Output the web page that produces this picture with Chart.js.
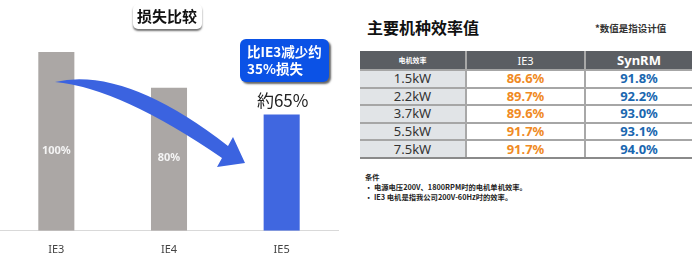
<!DOCTYPE html>
<html>
<head>
<meta charset="utf-8">
<script src="https://cdn.jsdelivr.net/npm/chart.js@4.4.1/dist/chart.umd.min.js"></script>
<style>
  body { margin: 0; background: #fff; width: 700px; height: 258px; overflow: hidden; position: relative;
         font-family: "Noto Sans", "Noto Sans CJK SC", sans-serif; }
  #lossChart { position: absolute; left: 0; top: 0; }
  #effTitle { position: absolute; left: 367px; top: 14px; font: bold 16px "Noto Sans CJK SC"; color: #111; line-height: 26px; }
  #effNote { position: absolute; left: 595px; top: 21px; font: bold 9.5px "Noto Sans CJK SC"; color: #333; line-height: 14px; }
  #effTable { position: absolute; left: 360px; top: 51px; width: 332px; border-collapse: collapse; table-layout: fixed; }
  #effTable th { background: #5b5e63; color: #fff; height: 18px; padding: 0; font-weight: bold; }
  #effTable td { height: 15.6px; padding: 0; text-align: center; font-size: 13px; line-height: 15px;
                 border-top: 2px solid #a6a6a6; }
  #effTable tr:last-child td { border-bottom: 2px solid #8a8a8a; }
  #effTable td.kw { background: #e1e4e7; color: #333; }
  #effTable td.ie3 { color: #f08a24; font-weight: bold; }
  #effTable td.syn { color: #1a67b0; font-weight: bold; }
  #effTable .sep { border-left: 2px solid #a8a8a8; }
  #conds { position: absolute; left: 365px; top: 172px; font: bold 7.3px "Noto Sans CJK SC"; color: #222; line-height: 10px; }
</style>
</head>
<body>
<canvas id="lossChart" width="340" height="258"></canvas>
<div id="effTitle">主要机种效率值</div>
<div id="effNote">*数值是指设计值</div>
<table id="effTable">
  <colgroup><col style="width:106px"><col style="width:119px"><col style="width:107px"></colgroup>
  <thead><tr id="effHead"></tr></thead>
  <tbody id="effBody"></tbody>
</table>
<div id="conds"></div>
<script>
// loss comparison (IE3 = 100%)
const motorClasses = ['IE3', 'IE4', 'IE5'];
const lossValues = [100, 80, 65];
const lossLabels = ['100%', '80%', '約65%'];

// efficiency table
const tableHeaders = ['电机效率', 'IE3', 'SynRM'];
const ratedPowers = ['1.5kW', '2.2kW', '3.7kW', '5.5kW', '7.5kW'];
const ie3Efficiency = ['86.6%', '89.7%', '89.6%', '91.7%', '91.7%'];
const synrmEfficiency = ['91.8%', '92.2%', '93.0%', '93.1%', '94.0%'];
const conditions = ['条件', '· 电源电压200V、1800RPM时的电机单机效率。', '· IE3 电机是指我公司200V-60Hz时的效率。'];

// --- table ---
const head = document.getElementById('effHead');
tableHeaders.forEach((h, i) => {
    const th = document.createElement('th');
    th.textContent = h;
    if (i === 0) { th.style.fontSize = '7px'; th.style.fontFamily = '"Noto Sans CJK SC"'; }
    else if (i === 1) { th.style.fontSize = '11px'; th.style.fontWeight = 'normal'; th.className = 'sep'; }
    else { th.style.fontSize = '13px'; th.className = 'sep'; }
    head.appendChild(th);
});
const body = document.getElementById('effBody');
ratedPowers.forEach((p, i) => {
    const tr = document.createElement('tr');
    tr.innerHTML = `<td class="kw">${p}</td><td class="ie3 sep">${ie3Efficiency[i]}</td><td class="syn sep">${synrmEfficiency[i]}</td>`;
    body.appendChild(tr);
});
document.getElementById('conds').innerHTML = conditions.join('<br>');

// --- decorations on the bar chart ---
const decorPlugin = {
    id: 'decor',
    afterDatasetsDraw(chart) {
        const ctx = chart.ctx;
        const bars = chart.getDatasetMeta(0).data;
        const y = chart.scales.y;

        // bar labels
        ctx.save();
        ctx.textAlign = 'center';
        ctx.textBaseline = 'middle';
        ctx.fillStyle = '#f4f4f4';
        ctx.font = 'bold 11px "Noto Sans"';
        ctx.fillText(lossLabels[0], bars[0].x, y.getPixelForValue(44.5));
        ctx.fillText(lossLabels[1], bars[1].x, y.getPixelForValue(41));
        ctx.fillStyle = '#222';
        ctx.font = '17px "Noto Sans CJK JP"';
        ctx.fillText(lossLabels[2], bars[2].x + 1, bars[2].y - 14);
        ctx.restore();

        // curved arrow
        ctx.save();
        ctx.fillStyle = '#3b63e0';
        ctx.beginPath();
        ctx.moveTo(55, 82);
        ctx.quadraticCurveTo(125, 66, 228, 146);
        ctx.lineTo(233, 137);
        ctx.lineTo(245, 163);
        ctx.lineTo(217, 167);
        ctx.lineTo(222, 158);
        ctx.quadraticCurveTo(120, 88, 55, 82);
        ctx.closePath();
        ctx.fill();
        ctx.restore();

        // title box
        ctx.save();
        ctx.shadowColor = 'rgba(0,0,0,0.55)';
        ctx.shadowOffsetY = 2;
        ctx.shadowOffsetX = 0;
        ctx.shadowBlur = 2;
        ctx.fillStyle = '#fff';
        ctx.beginPath();
        ctx.roundRect(133, 4, 69, 25, 5);
        ctx.fill();
        ctx.restore();
        ctx.save();
        ctx.fillStyle = '#111';
        ctx.font = 'bold 15px "Noto Sans CJK SC"';
        ctx.textAlign = 'center';
        ctx.textBaseline = 'middle';
        ctx.fillText('损失比较', 167, 16);
        ctx.restore();

        // callout box
        ctx.save();
        ctx.shadowColor = 'rgba(0,0,0,0.6)';
        ctx.shadowOffsetX = 2;
        ctx.shadowOffsetY = 2;
        ctx.shadowBlur = 2;
        ctx.fillStyle = '#0b52e6';
        ctx.beginPath();
        ctx.roundRect(240, 39, 89, 43, 6);
        ctx.fill();
        ctx.restore();
        ctx.save();
        ctx.fillStyle = '#fff';
        ctx.font = 'bold 13.5px "Noto Sans CJK SC"';
        ctx.textBaseline = 'middle';
        ctx.fillText('比IE3减少约', 247, 52);
        ctx.fillText('35%损失', 247, 69);
        ctx.restore();
    }
};

new Chart(document.getElementById('lossChart'), {
    type: 'bar',
    data: {
        labels: motorClasses,
        datasets: [{
            data: lossValues,
            backgroundColor: ['#aba7a5', '#aba7a5', '#4067e0'],
            barPercentage: 0.32,
            categoryPercentage: 1
        }]
    },
    options: {
        responsive: false,
        animation: false,
        layout: { padding: { top: 52, left: 0, right: 2, bottom: -10 } },
        plugins: { legend: { display: false }, tooltip: { enabled: false } },
        scales: {
            y: { display: false, min: 0, max: 100 },
            x: {
                grid: { display: false, drawTicks: false },
                border: { color: '#d9d9d9', width: 1 },
                ticks: { color: '#444', font: { size: 11, family: '"Noto Sans"' }, padding: 12 }
            }
        }
    },
    plugins: [decorPlugin]
});
</script>
</body>
</html>
